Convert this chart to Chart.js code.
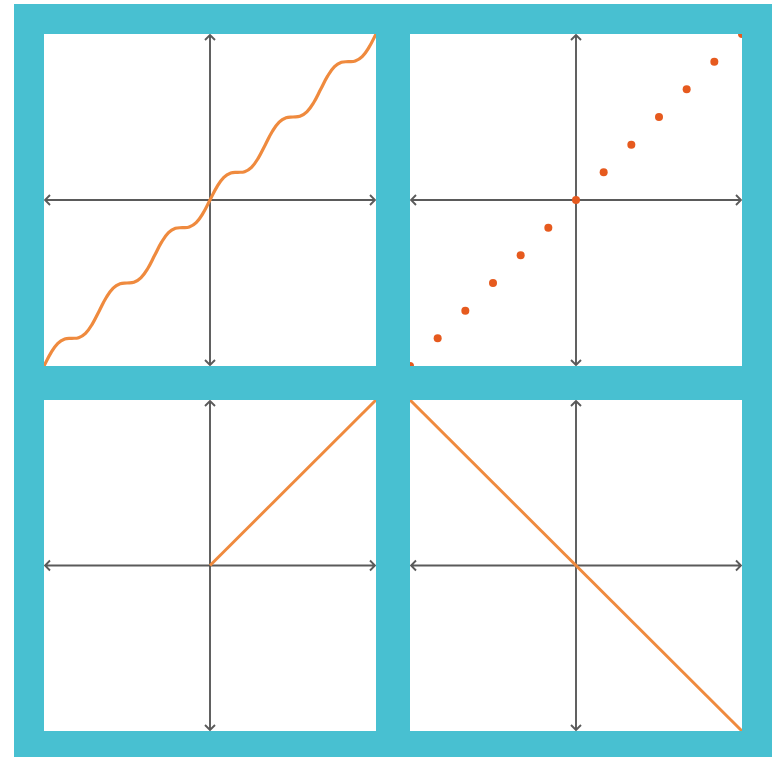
<!DOCTYPE html>
<html>
<head>
<meta charset="utf-8">
<script src="https://cdn.jsdelivr.net/npm/chart.js@4.4.0/dist/chart.umd.min.js"></script>
<style>
  html, body { margin: 0; padding: 0; background: #fff; overflow: hidden; }
  #frame { position: absolute; left: 14px; top: 4px; width: 758px; height: 753px; background: #48c0d1; }
  .panel { position: absolute; background: #fff; }
  canvas { display: block; }
</style>
</head>
<body>
<div id="frame">
  <div class="panel" style="left:30px;top:30px;width:332px;height:332px"><canvas id="c1" width="332" height="332"></canvas></div>
  <div class="panel" style="left:396px;top:30px;width:332px;height:332px"><canvas id="c2" width="332" height="332"></canvas></div>
  <div class="panel" style="left:30px;top:396px;width:332px;height:331px"><canvas id="c3" width="332" height="331"></canvas></div>
  <div class="panel" style="left:396px;top:396px;width:332px;height:331px"><canvas id="c4" width="332" height="331"></canvas></div>
</div>
<script>
// top left: wavy staircase
const waveX = [-6, -5.75, -5.5, -5.25, -5, -4.75, -4.5, -4.25, -4, -3.75, -3.5, -3.25, -3, -2.75, -2.5, -2.25,
  -2, -1.75, -1.5, -1.25, -1, -0.75, -0.5, -0.25, 0, 0.25, 0.5, 0.75, 1, 1.25, 1.5, 1.75,
  2, 2.25, 2.5, 2.75, 3, 3.25, 3.5, 3.75, 4, 4.25, 4.5, 4.75, 5, 5.25, 5.5, 5.75, 6];
const waveY = [-6, -5.525, -5.182, -5.025, -5, -4.975, -4.818, -4.475, -4, -3.525, -3.182, -3.025, -3, -2.975, -2.818, -2.475,
  -2, -1.525, -1.182, -1.025, -1, -0.975, -0.818, -0.475, 0, 0.475, 0.818, 0.975, 1, 1.025, 1.182, 1.525,
  2, 2.475, 2.818, 2.975, 3, 3.025, 3.182, 3.525, 4, 4.475, 4.818, 4.975, 5, 5.025, 5.182, 5.525, 6];
// top right: dots
const dotX = [-6, -5, -4, -3, -2, -1, 0, 1, 2, 3, 4, 5, 6];
const dotY = [-6, -5, -4, -3, -2, -1, 0, 1, 2, 3, 4, 5, 6];
// bottom left: ramp
const rampX = [0, 6];
const rampY = [0, 6];
// bottom right: falling line
const fallX = [-6, 6];
const fallY = [6, -6];

const LINE_COLOR = '#ef8a3e';
const DOT_COLOR = '#e65a1e';
const AXIS_COLOR = '#5a5a5a';

function pts(xs, ys) {
  return xs.map((x, i) => ({ x: x, y: ys[i] }));
}

// draws the two axes through zero, arrow at each end
const arrowAxes = {
  id: 'arrowAxes',
  beforeDatasetsDraw(chart) {
    const ctx = chart.ctx;
    const a = chart.chartArea;
    const x0 = chart.scales.x.getPixelForValue(0);
    const y0 = chart.scales.y.getPixelForValue(0);
    const s = 5;
    ctx.save();
    ctx.strokeStyle = AXIS_COLOR;
    ctx.lineWidth = 1.9;
    ctx.beginPath();
    ctx.moveTo(a.left + 1, y0); ctx.lineTo(a.right - 1, y0);
    ctx.moveTo(x0, a.top + 1); ctx.lineTo(x0, a.bottom - 1);
    // arrows
    ctx.moveTo(a.left + 1 + s, y0 - s); ctx.lineTo(a.left + 1, y0); ctx.lineTo(a.left + 1 + s, y0 + s);
    ctx.moveTo(a.right - 1 - s, y0 - s); ctx.lineTo(a.right - 1, y0); ctx.lineTo(a.right - 1 - s, y0 + s);
    ctx.moveTo(x0 - s, a.top + 1 + s); ctx.lineTo(x0, a.top + 1); ctx.lineTo(x0 + s, a.top + 1 + s);
    ctx.moveTo(x0 - s, a.bottom - 1 - s); ctx.lineTo(x0, a.bottom - 1); ctx.lineTo(x0 + s, a.bottom - 1 - s);
    ctx.stroke();
    ctx.restore();
  }
};

function makeChart(id, dataset) {
  new Chart(document.getElementById(id), {
    type: 'scatter',
    data: { datasets: [dataset] },
    options: {
      responsive: false,
      animation: false,
      layout: { padding: 0, autoPadding: false },
      plugins: { legend: { display: false }, tooltip: { enabled: false } },
      scales: {
        x: { type: 'linear', min: -6, max: 6, display: false },
        y: { type: 'linear', min: -6, max: 6, display: false }
      }
    },
    plugins: [arrowAxes]
  });
}

makeChart('c1', {
  data: pts(waveX, waveY),
  showLine: true,
  borderColor: LINE_COLOR,
  borderWidth: 3.2,
  pointRadius: 0,
  tension: 0.4,
  clip: 0
});
makeChart('c2', {
  data: pts(dotX, dotY),
  pointRadius: 4,
  pointBackgroundColor: DOT_COLOR,
  pointBorderWidth: 0,
  clip: 0
});
makeChart('c3', {
  data: pts(rampX, rampY),
  showLine: true,
  borderColor: LINE_COLOR,
  borderWidth: 3,
  pointRadius: 0,
  clip: 0
});
makeChart('c4', {
  data: pts(fallX, fallY),
  showLine: true,
  borderColor: LINE_COLOR,
  borderWidth: 3,
  pointRadius: 0,
  clip: 0
});
</script>
</body>
</html>
